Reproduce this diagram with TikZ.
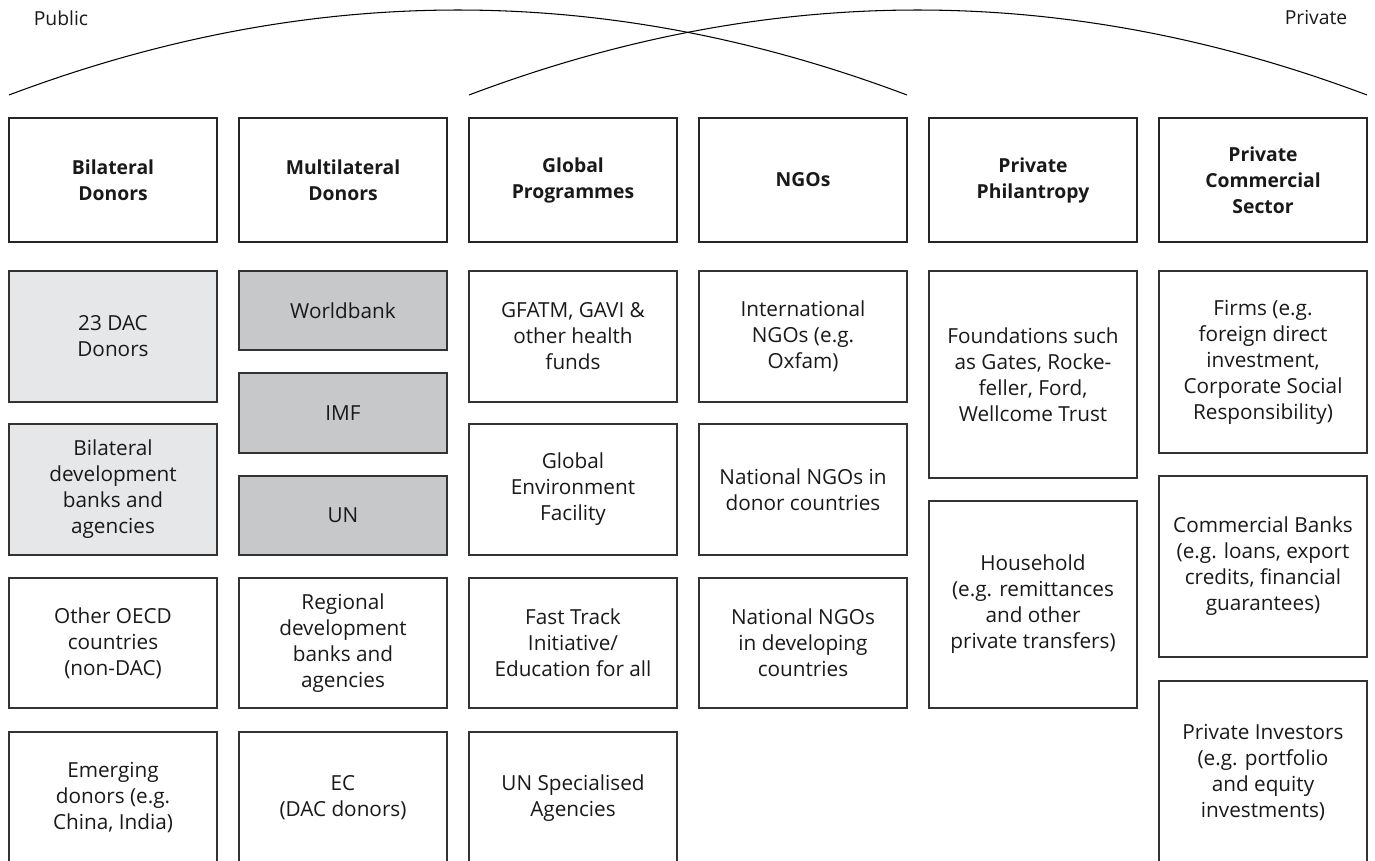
\documentclass[tikz,border=0pt]{standalone}
\usepackage{fontspec}
\setmainfont{Open Sans}
\usepackage{tikz}
\definecolor{bilgray}{HTML}{E6E7E8}
\definecolor{mulgray}{HTML}{C7C8CA}

\begin{document}
\begin{tikzpicture}[x=0.02cm, y=-0.02cm,
  every node/.style={font=\fontsize{11.8}{14.8}\selectfont, text=black!90},
  hdr/.style={draw=black!85, line width=1.5pt, minimum width=4.16cm, minimum height=2.48cm, inner sep=0pt, outer sep=0pt, align=center, font=\fontsize{11}{14.8}\selectfont\bfseries},
  cell/.style={draw=black!80, line width=0.8pt, minimum width=4.16cm, inner sep=0pt, outer sep=0pt, align=center}]
  \useasboundingbox (0,0) rectangle (1375,861);
  \clip (0,0) rectangle (1375,861);

  % public / private brackets
  \coordinate (pubL) at (9,95);
  \coordinate (pubR) at (907,95);
  \coordinate (priL) at (469,95);
  \coordinate (priR) at (1367,95);
  \draw[line width=0.6pt] (pubL) .. controls (309.7,-18.3) and (606.3,-18.3) .. (pubR);
  \draw[line width=0.6pt] (priL) .. controls (768.7,-18.3) and (1066.3,-18.3) .. (priR);
  \node[font=\fontsize{11}{14}\selectfont] (public) at (61,18) {Public};
  \node[font=\fontsize{11}{14}\selectfont] (private) at (1316,18) {Private};

  % column headers
  \node[hdr] (hbil) at (113,180) {Bilateral\\Donors};
  \node[hdr] (hmul) at (343,180) {Multilateral\\Donors};
  \node[hdr] (hglo) at (573,180) {Global\\Programmes};
  \node[hdr] (hngo) at (803,180) {NGOs};
  \node[hdr] (hphi) at (1033,180) {Private\\Philantropy};
  \node[hdr] (hcom) at (1263,180) {Private\\Commercial\\Sector};

  % bilateral
  \node[cell, fill=bilgray, minimum height=2.62cm] (bil1) at (113,336.5) {23 DAC\\Donors};
  \node[cell, fill=bilgray, minimum height=2.62cm] (bil2) at (113,489.5) {Bilateral\\development\\banks and\\agencies};
  \node[cell, minimum height=2.6cm] (bil3) at (113,643) {Other OECD\\countries\\(non-DAC)};
  \node[cell, minimum height=2.64cm] (bil4) at (113,798) {Emerging\\donors (e.g.\\China, India)};

  % multilateral
  \node[cell, fill=mulgray, minimum height=1.58cm] (mul1) at (343,310.5) {Worldbank};
  \node[cell, fill=mulgray, minimum height=1.6cm] (mul2) at (343,413) {IMF};
  \node[cell, fill=mulgray, minimum height=1.58cm] (mul3) at (343,515.5) {UN};
  \node[cell, minimum height=2.6cm] (mul4) at (343,643) {Regional\\development\\banks and\\agencies};
  \node[cell, minimum height=2.64cm] (mul5) at (343,798) {EC\\(DAC donors)};

  % global programmes
  \node[cell, minimum height=2.62cm] (glo1) at (573,336.5) {GFATM, GAVI \&\\other health\\funds};
  \node[cell, minimum height=2.62cm] (glo2) at (573,489.5) {Global\\Environment\\Facility};
  \node[cell, minimum height=2.6cm] (glo3) at (573,643) {Fast Track\\Initiative/\\Education for all};
  \node[cell, minimum height=2.64cm] (glo4) at (573,798) {UN Specialised\\Agencies};

  % NGOs
  \node[cell, minimum height=2.62cm] (ngo1) at (803,336.5) {International\\NGOs (e.g.\\Oxfam)};
  \node[cell, minimum height=2.62cm] (ngo2) at (803,489.5) {National NGOs in\\donor countries};
  \node[cell, minimum height=2.6cm] (ngo3) at (803,643) {National NGOs\\in developing\\countries};

  % philantropy
  \node[cell, minimum height=4.14cm] (phi1) at (1033,374.5) {Foundations such\\as Gates, Rocke-\\feller, Ford,\\Wellcome Trust};
  \node[cell, minimum height=4.14cm] (phi2) at (1033,604.5) {Household\\(e.g. remittances\\and other\\private transfers)};

  % commercial
  \node[cell, minimum height=3.64cm] (com1) at (1263,362) {Firms (e.g.\\foreign direct\\investment,\\Corporate Social\\Responsibility)};
  \node[cell, minimum height=3.62cm] (com2) at (1263,566.5) {Commercial Banks\\(e.g. loans, export\\credits, financial\\guarantees)};
  \node[cell, minimum height=3.66cm] (com3) at (1263,772.5) {Private Investors\\(e.g. portfolio\\and equity\\investments)};
\end{tikzpicture}
\end{document}
